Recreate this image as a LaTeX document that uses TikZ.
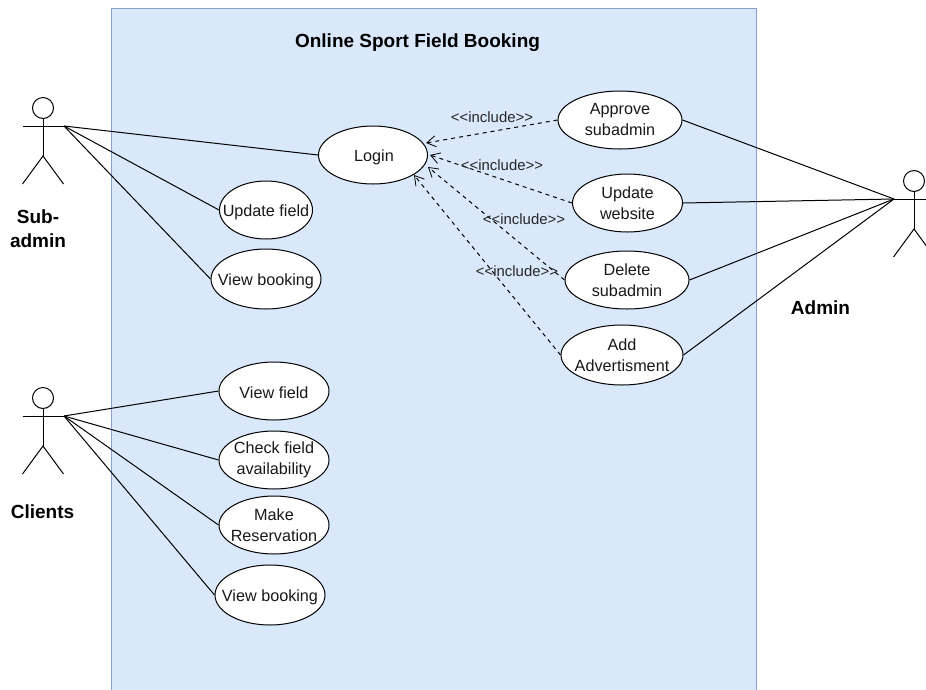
\documentclass[tikz,border=0pt]{standalone}
\usepackage{fontspec}
\setmainfont{Liberation Sans}
\usetikzlibrary{arrows.meta,shapes.geometric}
\definecolor{boxfill}{HTML}{DAE8FC}
\definecolor{boxline}{HTML}{86A2CC}
\tikzset{
  usecase/.style={draw=black,fill=white,line width=1pt,ellipse,inner sep=0pt},
  uctext/.style={font=\fontsize{16.2}{21}\selectfont,align=center,inner sep=0pt,text=black!90},
  assoc/.style={draw=black,line width=1pt},
  incl/.style={draw=black,line width=1pt,dash pattern=on 4pt off 4pt,-{Straight Barb[length=9pt,width=11pt,line width=0.8pt]}},
  incllabel/.style={font=\fontsize{14.9}{17}\selectfont,text=black!85,inner sep=0pt},
  actorlabel/.style={font=\fontsize{19}{24}\selectfont\bfseries,align=center,inner sep=0pt},
  actorline/.style={draw=black,line width=1pt}
}
\newcommand{\stickman}[3]{%
  \draw[actorline] (#2,#3) circle [radius=10.5];
  \draw[actorline] (#2,#3+10.5) -- (#2,#3+48);
  \draw[actorline] (#2-20.5,#3+18) -- (#2+20.5,#3+18);
  \draw[actorline] (#2-20.5,#3+76) -- (#2,#3+48) -- (#2+20.5,#3+76);
}
\newcommand{\usecasenode}[7]{% name, x, y, width, height, text, label options
  \node[usecase,minimum width=#4pt,minimum height=#5pt,label={[uctext,#7]center:{#6}}] (#1) at (#2,#3) {};
}
\newcommand{\incltext}{{<}{<}include{>}{>}}
\begin{document}
\begin{tikzpicture}[x=1pt,y=-1pt]
\useasboundingbox (0,0) rectangle (926,689);
\begin{scope}
\clip (0,0) rectangle (926,689);
\fill[white] (0,0) rectangle (926,689);
\node[draw=boxline,fill=boxfill,line width=1.2pt,minimum width=645pt,minimum height=690pt,anchor=north west,inner sep=0pt] (system) at (111,8) {};

\stickman{sub}{43}{108}
\stickman{cli}{43}{398}
\stickman{adm}{914}{181}
\end{scope}

\coordinate (sub) at (64,126);
\coordinate (cli) at (64,416);
\coordinate (adm) at (894,199);

\usecasenode{login}{373}{155}{109}{58}{\hspace{2pt}Login}{yshift=-2pt}
\usecasenode{updfield}{266}{210}{93}{58}{Update field}{yshift=-2pt}
\usecasenode{viewbook}{266}{279}{110}{60}{View booking}{yshift=-2pt}
\usecasenode{viewfield}{274}{391}{110}{58}{View field}{yshift=-2pt}
\usecasenode{check}{274}{460}{110}{58}{Check field\\availability}{}
\usecasenode{make}{274}{525}{110}{58}{Make\\Reservation}{}
\usecasenode{viewbook2}{270}{595}{110}{60}{View booking}{yshift=-2pt}
\usecasenode{approve}{620}{120}{124}{58}{Approve\\subadmin}{}
\usecasenode{update}{627.5}{203}{110}{58}{Update\\website}{}
\usecasenode{delete}{627}{280}{124}{58}{Delete\\subadmin}{}
\usecasenode{addadv}{622}{355}{122}{60}{Add\\Advertisment}{}

\coordinate (t1) at (426,143);
\coordinate (t2) at (430,155);
\coordinate (t3) at (428,167);
\coordinate (t4) at (414,175);

\draw[assoc] (sub) -- (login.west);
\draw[assoc] (sub) -- (updfield.west);
\draw[assoc] (sub) -- (viewbook.west);
\draw[assoc] (cli) -- (viewfield.west);
\draw[assoc] (cli) -- (check.west);
\draw[assoc] (cli) -- (make.west);
\draw[assoc] (cli) -- (viewbook2.west);
\draw[assoc] (adm) -- (approve.east);
\draw[assoc] (adm) -- (update.east);
\draw[assoc] (adm) -- (delete.east);
\draw[assoc] (adm) -- (addadv.east);

\draw[incl] (approve.west) -- (t1);
\draw[incl] (update.west) -- (t2);
\draw[incl] (delete.west) -- (t3);
\draw[incl] (addadv.west) -- (t4);

\node[incllabel] (l1) at (492,117) {\incltext};
\node[incllabel] (l2) at (502,165) {\incltext};
\node[incllabel] (l3) at (524,219) {\incltext};
\node[incllabel] (l4) at (517,271) {\incltext};

\node[font=\fontsize{19}{24}\selectfont\bfseries,inner sep=0pt] (title) at (417.5,43) {Online Sport Field Booking};
\node[actorlabel] (sublabel) at (38,228.5) {Sub-\\admin};
\node[actorlabel] (clilabel) at (42.5,512) {Clients};
\node[actorlabel] (admlabel) at (820.5,308) {Admin};
\end{tikzpicture}
\end{document}
